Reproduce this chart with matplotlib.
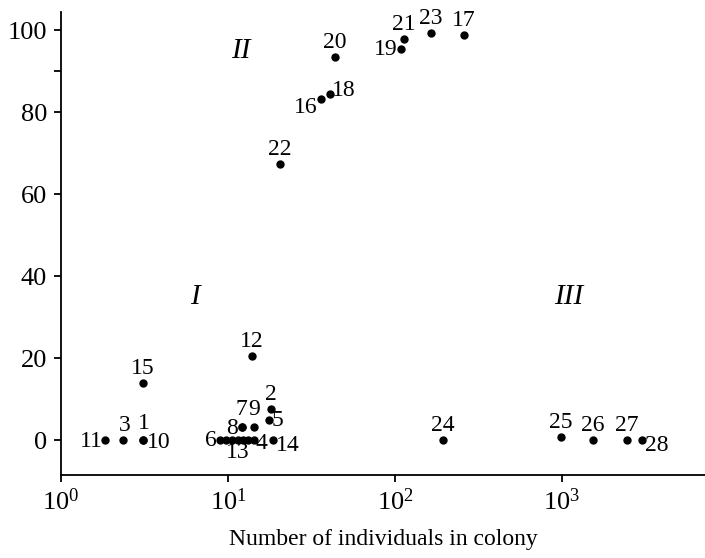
import math
import matplotlib
matplotlib.use("Agg")
import matplotlib.pyplot as plt
from matplotlib.ticker import FixedLocator, NullLocator, FuncFormatter

plt.rcParams['font.family'] = ['Liberation Serif', 'DejaVu Serif']
plt.rcParams['mathtext.fontset'] = 'custom'
plt.rcParams['mathtext.rm'] = 'Liberation Serif'
plt.rcParams['mathtext.it'] = 'Liberation Serif:italic'

# ---- data (colony size, percentage) ----
labels = ["1", "2", "3", "4", "5", "6", "7", "8", "9", "10",
          "11", "12", "13", "14", "15", "16", "17", "18", "19", "20",
          "21", "22", "23", "24", "25", "26", "27", "28", "", "", "", ""]
colony_size = [3.1, 18.1, 2.35, 14.3, 17.6, 8.96, 12.1, 12.1, 14.3, 3.1,
               1.83, 13.9, 11.5, 18.6, 3.1, 36.0, 259, 40.8, 108.6, 43.7,
               113, 20.5, 164, 194, 986, 1535, 2450, 3014, 9.73, 10.6, 12.3, 13.2]
percent = [0, 7.6, 0, 0, 4.9, 0, 3.2, 3.2, 3.2, 0,
           0, 20.5, 0, 0, 13.9, 83.2, 98.8, 84.4, 95.4, 93.4,
           98.0, 67.5, 99.3, 0, 0.7, 0, 0, 0, 0, 0, 0, 0]

regions = ["I", "II", "III"]
region_x = [6.3, 12.0, 1100]
region_y = [35, 95, 35]

xticks = [1, 10, 100, 1000]
yticks = [0, 20, 40, 60, 80, 100]

# ---- label placement (style) ----
above = dict(off=(0, 4), ha='center', va='bottom')
left = dict(off=(-3, 0), ha='right', va='center')
right = dict(off=(3, 0), ha='left', va='center')
below = dict(off=(0, -2), ha='center', va='top')
placement = {
    "1": dict(above, off=(1, 6)), "2": above, "3": dict(above, off=(2, 4)),
    "4": dict(right, off=(2, -3)), "5": right, "6": left, "7": dict(above, off=(0, 7)),
    "8": dict(left, off=(-4, -1)), "9": dict(above, off=(0, 7)), "10": dict(right, off=(4, -2)),
    "11": dict(left, off=(-2, -1)), "12": above, "13": below, "14": dict(right, off=(3, -5)),
    "15": above, "16": dict(left, off=(-3, -8)), "17": above, "18": dict(right, off=(2, 4)),
    "19": dict(left, off=(-3, 0)), "20": above, "21": above, "22": above,
    "23": above, "24": above, "25": above, "26": above, "27": above,
    "28": dict(right, off=(3, -5)),
}

fig = plt.figure(figsize=(7.05, 5.58), dpi=100)
ax = fig.add_axes([61 / 705, 83 / 558, 1 - 61 / 705, 463 / 558])
ax.set_xscale('log')
ax.set_xlim(1, 7180)
ax.set_ylim(-8.5, 104.5)

ax.plot(colony_size, percent, 'o', color='black', markersize=5, linestyle='none')

for lab, xv, yv in zip(labels, colony_size, percent):
    if not lab:
        continue
    p = placement[lab]
    ax.annotate(lab, (xv, yv), xytext=p['off'], textcoords='offset pixels',
                ha=p['ha'], va=p['va'], fontsize=17, color='black')

for r, xv, yv in zip(regions, region_x, region_y):
    ax.text(xv, yv, r, fontsize=21, style='italic', ha='center', va='center')

for s in ['top', 'right']:
    ax.spines[s].set_visible(False)
for s in ['left', 'bottom']:
    ax.spines[s].set_linewidth(1.3)

ax.xaxis.set_major_locator(FixedLocator(xticks))
ax.xaxis.set_minor_locator(NullLocator())
ax.xaxis.set_major_formatter(FuncFormatter(lambda v, p: r"$10^{%d}$" % round(math.log10(v))))
ax.yaxis.set_major_locator(FixedLocator(yticks))
ax.yaxis.set_minor_locator(FixedLocator([90]))
ax.tick_params(axis='both', which='major', labelsize=19, length=5, width=1.3, direction='out', pad=5)
ax.tick_params(axis='y', which='minor', length=5, width=1.3)

ax.set_xlabel("Number of individuals in colony", fontsize=17, labelpad=10)

fig.savefig("out.png", dpi=100)
